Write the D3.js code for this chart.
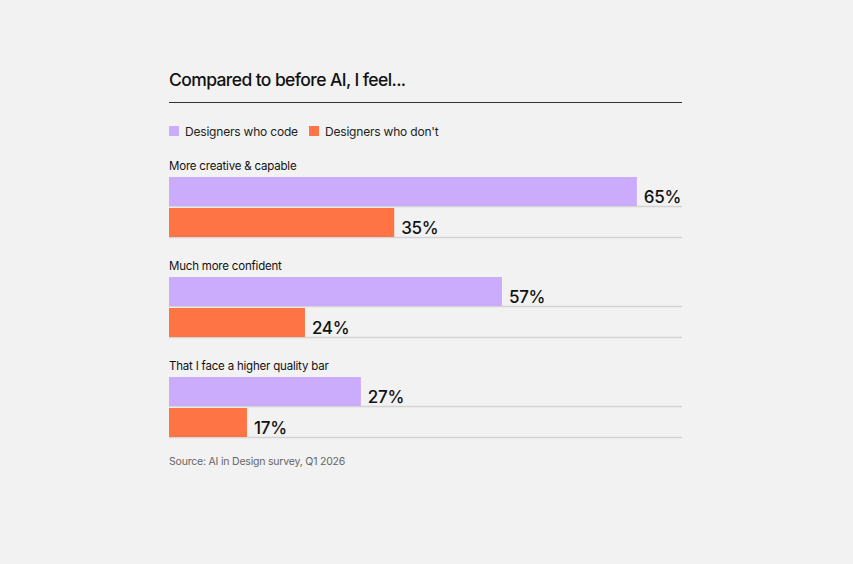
<!DOCTYPE html>
<html>
<head>
<meta charset="utf-8">
<script src="https://cdn.jsdelivr.net/npm/d3@7"></script>
<style>
  html, body { margin: 0; padding: 0; background: #f2f2f2; }
  svg { display: block; font-family: Inter, "Noto Sans", sans-serif; }
</style>
</head>
<body>
<div id="chart"></div>
<script>
// Chart data
const questions = ["More creative & capable", "Much more confident", "That I face a higher quality bar"];
const seriesNames = ["Designers who code", "Designers who don't"];
const codeValues = [65, 57, 27];     // printed percentages
const dontValues = [35, 24, 17];
// bar lengths, in % of the full track
const codeBarLength = [91.2, 64.9, 37.4];
const dontBarLength = [43.9, 26.5, 15.2];
const colors = ["#cbabfc", "#ff7445"];

const width = 853, height = 564;
const left = 169, right = 682;
const trackWidth = right - left;

const svg = d3.select("#chart")
  .append("svg")
  .attr("width", width)
  .attr("height", height);

svg.append("rect")
  .attr("width", width)
  .attr("height", height)
  .attr("fill", "#f2f2f2");

// Title + rule
svg.append("text")
  .attr("x", left)
  .attr("y", 86)
  .attr("font-size", "17.5px")
  .attr("font-weight", 500)
  .attr("letter-spacing", "-0.6px")
  .attr("fill", "#111")
  .text("Compared to before AI, I feel...");

svg.append("line")
  .attr("x1", left).attr("x2", right)
  .attr("y1", 102.5).attr("y2", 102.5)
  .attr("stroke", "#333")
  .attr("stroke-width", 1);

// Legend
const legendX = [left, 309];
const legend = svg.append("g");
seriesNames.forEach((name, i) => {
  legend.append("rect")
    .attr("x", legendX[i])
    .attr("y", 126)
    .attr("width", 10)
    .attr("height", 10)
    .attr("fill", colors[i]);
  legend.append("text")
    .attr("x", legendX[i] + 16)
    .attr("y", 135.5)
    .attr("font-size", "12px")
    .attr("letter-spacing", "-0.2px")
    .attr("fill", "#222")
    .text(name);
});

// Scales
const x = d3.scaleLinear().domain([0, 100]).range([0, trackWidth]);
const y = d3.scaleBand().domain(questions).range([150, 450]);

const rows = questions.map((q, i) => ({
  question: q,
  bars: [
    { value: codeValues[i], len: codeBarLength[i], color: colors[0] },
    { value: dontValues[i], len: dontBarLength[i], color: colors[1] }
  ]
}));

const barH = 29, barGap = 2;

const group = svg.selectAll("g.row")
  .data(rows)
  .enter().append("g")
  .attr("class", "row")
  .attr("transform", d => `translate(${left},${y(d.question)})`);

group.append("text")
  .attr("x", 0)
  .attr("y", 20)
  .attr("font-size", "11.5px")
  .attr("letter-spacing", "-0.2px")
  .attr("fill", "#111")
  .text(d => d.question);

const bar = group.selectAll("g.bar")
  .data(d => d.bars)
  .enter().append("g")
  .attr("class", "bar")
  .attr("transform", (d, i) => `translate(0,${27 + i * (barH + barGap)})`);

// track line under each bar
bar.append("line")
  .attr("x1", 0).attr("x2", trackWidth)
  .attr("y1", barH + 0.5).attr("y2", barH + 0.5)
  .attr("stroke", "#d4d4d4")
  .attr("stroke-width", 1.5);

bar.append("rect")
  .attr("x", 0)
  .attr("y", 0)
  .attr("width", d => x(d.len))
  .attr("height", barH)
  .attr("fill", d => d.color);

bar.append("text")
  .attr("x", d => x(d.len) + 7)
  .attr("y", barH - 3)
  .attr("font-size", "17px")
  .attr("font-weight", 500)
  .attr("letter-spacing", "-0.3px")
  .attr("fill", "#111")
  .text(d => d.value + "%");

// Source
svg.append("text")
  .attr("x", left)
  .attr("y", 465)
  .attr("font-size", "10.5px")
  .attr("letter-spacing", "-0.2px")
  .attr("fill", "#666")
  .text("Source: AI in Design survey, Q1 2026");
</script>
</body>
</html>
